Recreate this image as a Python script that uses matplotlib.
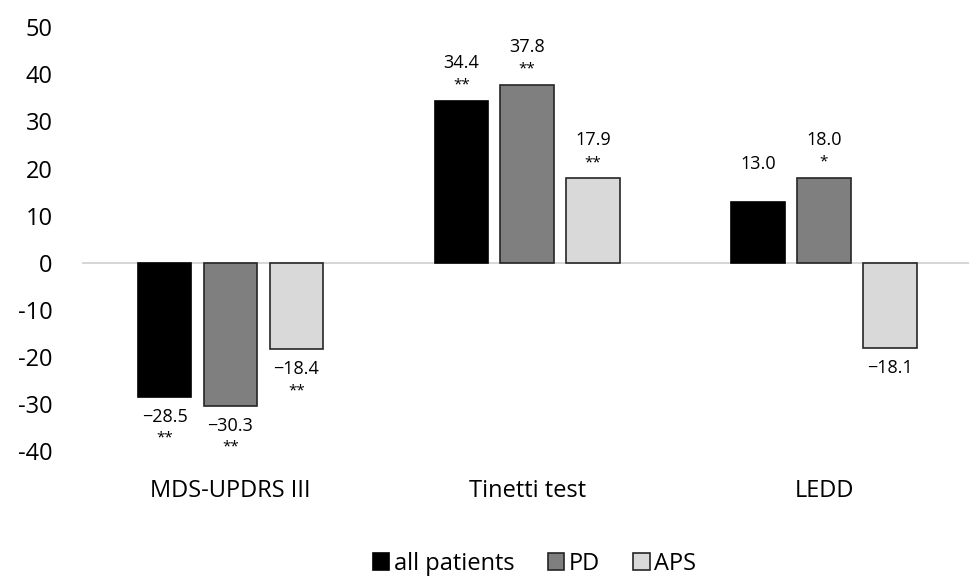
import matplotlib
matplotlib.use('Agg')
import matplotlib.pyplot as plt
import numpy as np

plt.rcParams['font.family'] = ['Open Sans', 'DejaVu Sans']
plt.rcParams['axes.unicode_minus'] = False

# data
categories = ['MDS-UPDRS III', 'Tinetti test', 'LEDD']
series = ['all patients', 'PD', 'APS']
all_patients = [-28.5, 34.4, 13.0]
pd_values = [-30.3, 37.8, 18.0]
aps_values = [-18.4, 17.9, -18.1]
stars_all = ['**', '**', '']
stars_pd = ['**', '**', '*']
stars_aps = ['**', '**', '']

colors = ['#000000', '#7f7f7f', '#d9d9d9']
edges = ['#000000', '#262626', '#262626']

fig = plt.figure(figsize=(9.7, 5.8), dpi=100)
ax = fig.add_axes([0.0845, 0.222, 0.918, 0.731])

x = np.arange(len(categories))
width = 0.18
offsets = [-0.222, 0.0, 0.222]
values = [all_patients, pd_values, aps_values]
stars = [stars_all, stars_pd, stars_aps]

px = 90 / (0.731 * 580)  # data units per pixel

for vals, st, off, c, e, name in zip(values, stars, offsets, colors, edges, series):
    ax.bar(x + off, vals, width, color=c, edgecolor=e, linewidth=1.2, label=name, zorder=3)
    for xi, v, s in zip(x + off, vals, st):
        txt = f'{v:.1f}'.replace('-', '\u2212')
        if v >= 0:
            ax.text(xi, v + 38 * px, txt, ha='center', va='center', fontsize=13)
            if s:
                ax.text(xi, v + 16 * px, s, ha='center', va='center', fontsize=11)
        else:
            ax.text(xi, v - 20 * px, txt, ha='center', va='center', fontsize=13)
            if s:
                ax.text(xi, v - 41 * px, s, ha='center', va='center', fontsize=11)

ax.axhline(0, color='#d0d0d0', linewidth=1.2, zorder=1)
ax.set_xlim(-0.5, 2.5)
ax.set_ylim(-40, 50)
ax.set_yticks(range(-40, 51, 10))
ax.tick_params(axis='y', length=0, labelsize=17, pad=21)
ax.set_xticks([])
for s in ax.spines.values():
    s.set_visible(False)

for xi, cat in zip(x, categories):
    ax.text(xi, -40 - 40 * px, cat, ha='center', va='center', fontsize=17)

handles, labels = ax.get_legend_handles_labels()
fig.legend(handles, labels, loc='center', bbox_to_anchor=(0.551, 0.028), ncol=3, frameon=False,
           fontsize=17, handlelength=0.7, handleheight=0.7, handletextpad=0.2, columnspacing=1.4)

plt.savefig('out.png', dpi=100)
